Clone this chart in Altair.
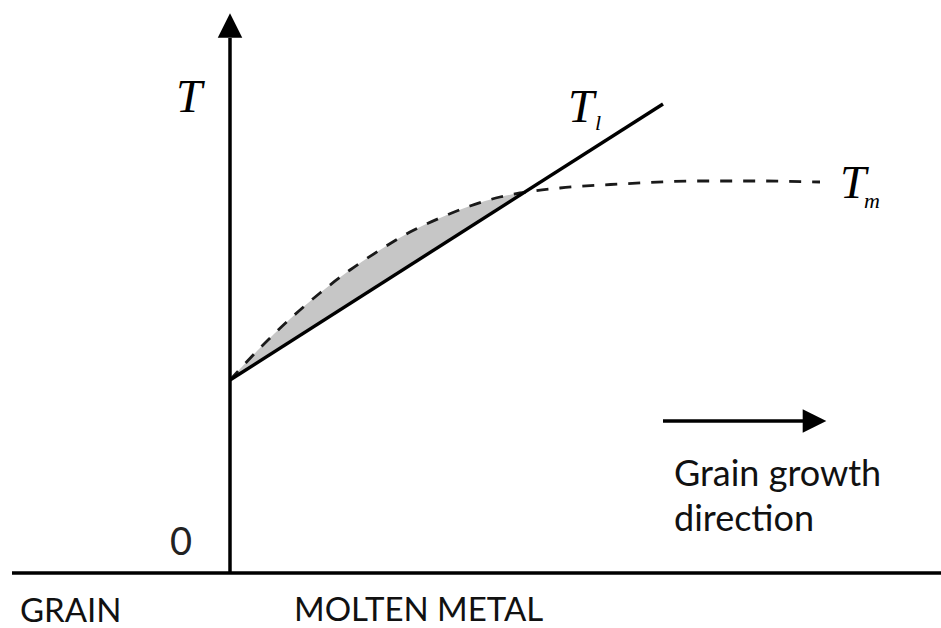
import altair as alt
import pandas as pd

# ---- data (diagram units: origin at axis crossing) ----
# liquidus line T_l (straight)
tl_x = [0.0, 4.33]
tl_y = [1.93, 4.69]

# melting-temperature curve T_m (dashed)
tm_x = [0.0, 0.10, 0.30, 0.60, 0.90, 1.20, 1.50, 1.80, 2.10, 2.40, 2.70, 2.90, 3.30, 3.90, 4.70, 5.30, 5.90]
tm_y = [1.93, 2.04, 2.25, 2.54, 2.80, 3.03, 3.23, 3.41, 3.55, 3.67, 3.76, 3.80, 3.85, 3.89, 3.92, 3.92, 3.91]
x_cross = 2.90  # where T_m meets T_l

# axes
h_axis_x = [-2.18, 7.11]
v_axis_y = [0.0, 5.35]
v_arrow_head = (0.0, 5.475)

# growth-direction arrow
dir_x = [4.33, 5.75]
dir_y = 1.52
dir_head = (5.845, 1.52)

# labels
serif_labels = ["T", "T", "T"]
serif_x = [-0.41, 3.51, 6.23]
serif_y = [4.61, 4.51, 3.75]
sub_labels = ["l", "m"]
sub_x = [3.68, 6.42]
sub_y = [4.43, 3.65]
sans_labels = ["0", "GRAIN", "MOLTEN METAL"]
sans_x = [-0.49, -2.10, 0.64]
sans_y = [0.18, -0.485, -0.48]
note_lines = ["Grain growth", "direction"]
note_x = [4.44, 4.44]
note_y = [0.87, 0.42]

# ---- scales ----
W, H = 941, 628
xs = alt.Scale(domain=[-2.30, 7.11], nice=False, zero=False)
ys = alt.Scale(domain=[-0.55, 5.73], nice=False, zero=False)


def X(f):
    return alt.X(f, type="quantitative", scale=xs, axis=None)


def Y(f):
    return alt.Y(f, type="quantitative", scale=ys, axis=None)


tl_df = pd.DataFrame({"x": tl_x, "y": tl_y})
tm_df = pd.DataFrame({"x": tm_x, "y": tm_y})
tm_fill = tm_df[tm_df["x"] <= x_cross]

gray = alt.Chart(tm_fill).mark_area(color="#c6c6c6", interpolate="monotone").encode(
    x=X("x"), y=Y("y"), y2=alt.datum(0)
)
white = alt.Chart(tl_df).mark_area(color="white").encode(
    x=X("x"), y=Y("y"), y2=alt.datum(0)
)
tm_line = alt.Chart(tm_df).mark_line(
    color="#1a1a1a", strokeWidth=2.8, strokeDash=[12, 11], interpolate="monotone"
).encode(x=X("x"), y=Y("y"))
tl_line = alt.Chart(tl_df).mark_line(color="black", strokeWidth=3.4).encode(
    x=X("x"), y=Y("y")
)

h_axis = alt.Chart(pd.DataFrame({"x": [h_axis_x[0]], "x2": [h_axis_x[1]], "y": [0.0]})).mark_rule(
    color="black", strokeWidth=3.5
).encode(x=X("x"), x2="x2", y=Y("y"))
v_axis = alt.Chart(pd.DataFrame({"x": [0.0], "y": [v_axis_y[0]], "y2": [v_axis_y[1]]})).mark_rule(
    color="black", strokeWidth=3.5
).encode(x=X("x"), y=Y("y"), y2="y2")
v_head = alt.Chart(pd.DataFrame({"x": [v_arrow_head[0]], "y": [v_arrow_head[1]]})).mark_point(
    shape="M-1,1L0,-1L1,1Z", filled=True, opacity=1, size=600, color="black", strokeWidth=0
).encode(x=X("x"), y=Y("y"))

dir_shaft = alt.Chart(pd.DataFrame({"x": [dir_x[0]], "x2": [dir_x[1]], "y": [dir_y]})).mark_rule(
    color="black", strokeWidth=3.5
).encode(x=X("x"), x2="x2", y=Y("y"))
dir_arrow = alt.Chart(pd.DataFrame({"x": [dir_head[0]], "y": [dir_head[1]]})).mark_point(
    shape="M-1,-1L1,0L-1,1Z", filled=True, opacity=1, size=560, color="black", strokeWidth=0
).encode(x=X("x"), y=Y("y"))

serif = alt.Chart(pd.DataFrame({"t": serif_labels, "x": serif_x, "y": serif_y})).mark_text(
    font="Liberation Serif", fontStyle="italic", fontSize=47, color="black",
    align="center", baseline="alphabetic"
).encode(x=X("x"), y=Y("y"), text="t:N")
subs = alt.Chart(pd.DataFrame({"t": sub_labels, "x": sub_x, "y": sub_y})).mark_text(
    font="Liberation Serif", fontStyle="italic", fontSize=22, color="black",
    align="center", baseline="alphabetic"
).encode(x=X("x"), y=Y("y"), text="t:N")

sans_df = pd.DataFrame({"t": sans_labels, "x": sans_x, "y": sans_y})
zero_lbl = alt.Chart(sans_df.iloc[[0]]).mark_text(
    font="Lato", fontSize=38, color="#222", align="center", baseline="alphabetic"
).encode(x=X("x"), y=Y("y"), text="t:N")
bottom_lbl = alt.Chart(sans_df.iloc[1:]).mark_text(
    font="Lato", fontSize=33, color="#111", align="left", baseline="alphabetic"
).encode(x=X("x"), y=Y("y"), text="t:N")
note = alt.Chart(pd.DataFrame({"t": note_lines, "x": note_x, "y": note_y})).mark_text(
    font="Lato", fontSize=36, color="#111", align="left", baseline="alphabetic"
).encode(x=X("x"), y=Y("y"), text="t:N")

chart = alt.layer(
    gray, white, tm_line, tl_line, h_axis, v_axis, v_head, dir_shaft, dir_arrow,
    serif, subs, zero_lbl, bottom_lbl, note
).properties(
    width=W, height=H, padding=0, autosize=alt.AutoSizeParams(type="none"), background="white"
).configure_view(stroke=None)

chart.save("out.html", embed_options={"renderer": "svg", "actions": False})
